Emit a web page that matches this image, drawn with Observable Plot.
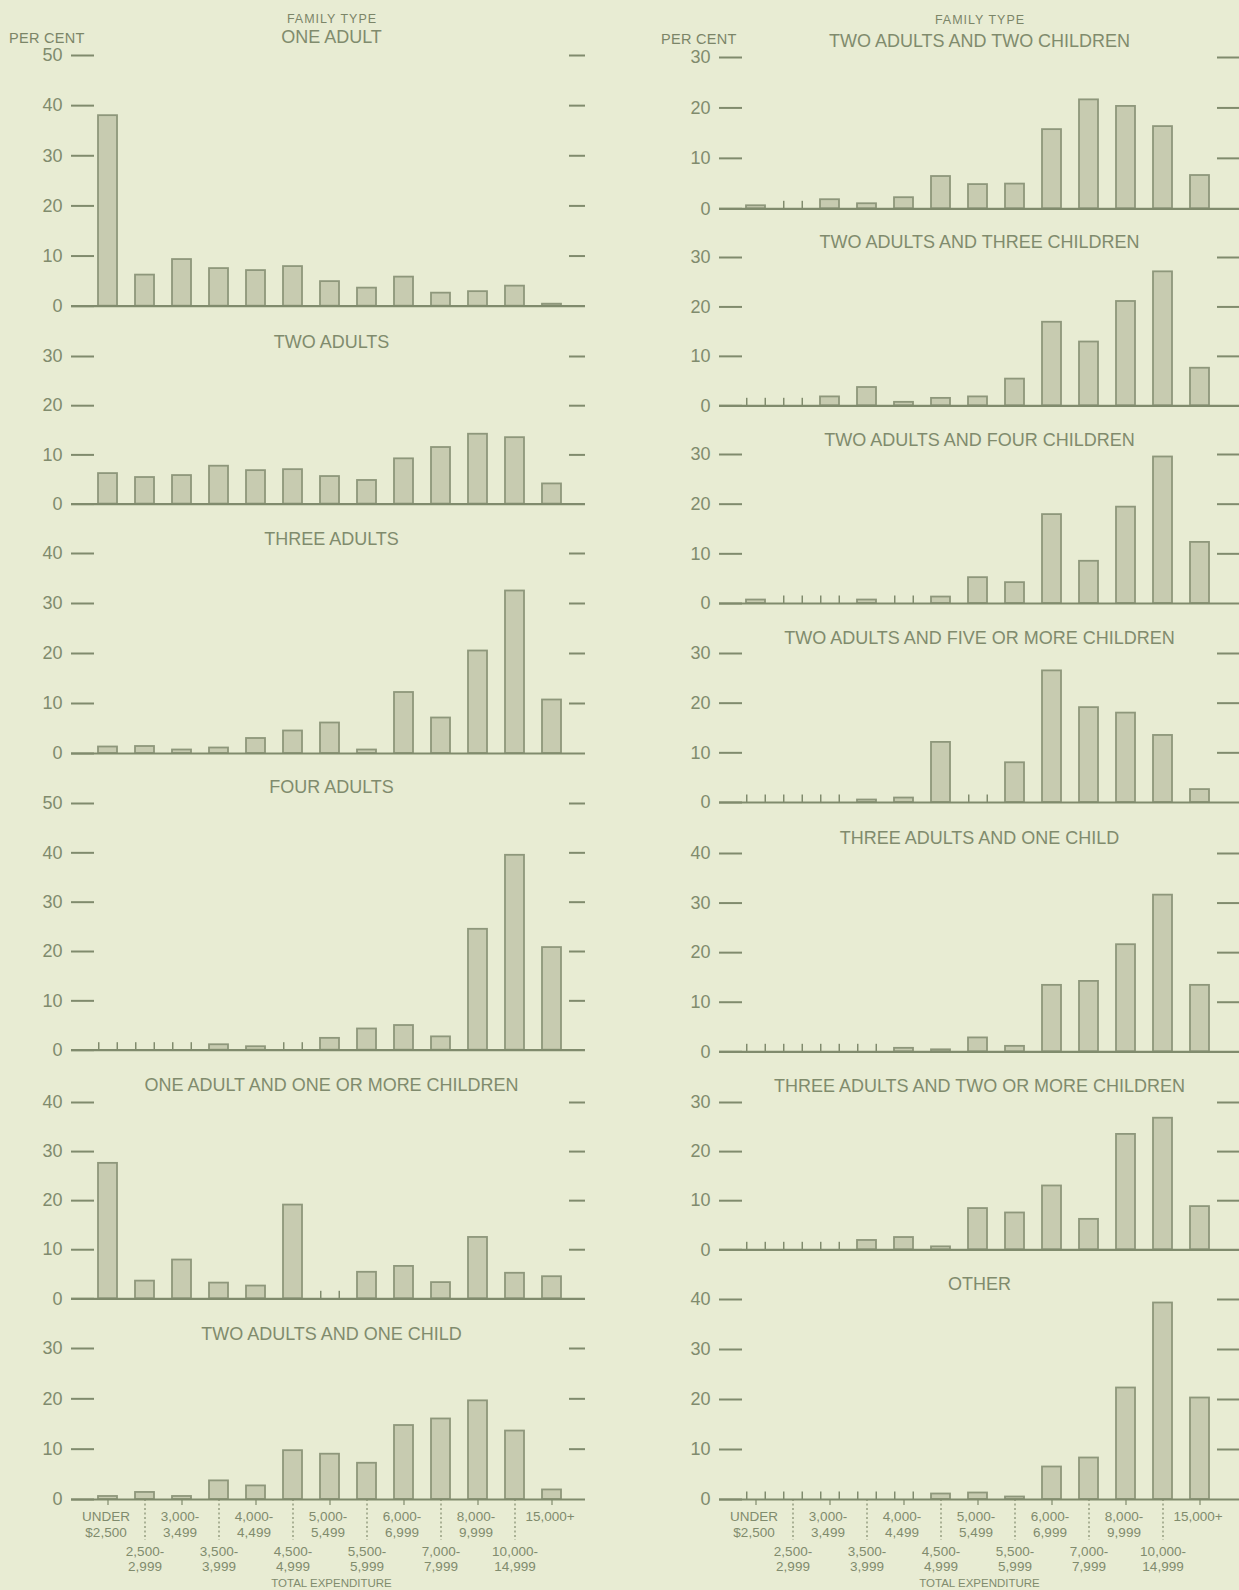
<!DOCTYPE html>
<html>
<head>
<meta charset="utf-8">
<script src="https://cdn.jsdelivr.net/npm/d3@7"></script>
<script src="https://cdn.jsdelivr.net/npm/@observablehq/plot@0.6"></script>
<style>
  html, body { margin: 0; padding: 0; background: #e8ecd3; }
  #chart { position: relative; width: 1239px; height: 1590px; overflow: hidden;
           font-family: "Liberation Sans", "DejaVu Sans", sans-serif; color: #7b8568; }
  .lbl { position: absolute; white-space: nowrap; transform: translate(0, -50%); }
  .panel { position: absolute; }
</style>
</head>
<body>
<div id="chart"></div>
<script>
// ---------------- DATA ----------------
const categories = ["Under $2,500", "$2,500-2,999", "$3,000-3,499", "$3,500-3,999", "$4,000-4,499",
  "$4,500-4,999", "$5,000-5,499", "$5,500-5,999", "$6,000-6,999", "$7,000-7,999",
  "$8,000-9,999", "$10,000-14,999", "$15,000+"];
const tickLabels = ["UNDER\n$2,500", "2,500-\n2,999", "3,000-\n3,499", "3,500-\n3,999", "4,000-\n4,499",
  "4,500-\n4,999", "5,000-\n5,499", "5,500-\n5,999", "6,000-\n6,999", "7,000-\n7,999",
  "8,000-\n9,999", "10,000-\n14,999", "15,000+"];
const familyTypes = ["ONE ADULT", "TWO ADULTS", "THREE ADULTS", "FOUR ADULTS",
  "ONE ADULT AND ONE OR MORE CHILDREN", "TWO ADULTS AND ONE CHILD",
  "TWO ADULTS AND TWO CHILDREN", "TWO ADULTS AND THREE CHILDREN", "TWO ADULTS AND FOUR CHILDREN",
  "TWO ADULTS AND FIVE OR MORE CHILDREN", "THREE ADULTS AND ONE CHILD",
  "THREE ADULTS AND TWO OR MORE CHILDREN", "OTHER"];
const yMax = [50, 30, 40, 50, 40, 30, 30, 30, 30, 30, 40, 30, 40];

const oneAdult               = [38.0, 6.2, 9.3, 7.5, 7.1, 7.9, 4.9, 3.6, 5.8, 2.6, 2.9, 4.0, 0.4];
const twoAdults              = [6.2, 5.4, 5.8, 7.7, 6.8, 7.0, 5.6, 4.8, 9.2, 11.5, 14.2, 13.5, 4.1];
const threeAdults            = [1.3, 1.4, 0.7, 1.1, 3.0, 4.5, 6.1, 0.7, 12.2, 7.1, 20.5, 32.5, 10.7];
const fourAdults             = [0, 0, 0, 1.1, 0.7, 0, 2.4, 4.3, 5.0, 2.7, 24.5, 39.5, 20.8];
const oneAdultChildren       = [27.6, 3.6, 7.9, 3.2, 2.6, 19.1, 0, 5.4, 6.6, 3.3, 12.5, 5.2, 4.5];
const twoAdultsOneChild      = [0.6, 1.4, 0.6, 3.7, 2.7, 9.7, 9.0, 7.2, 14.7, 16.0, 19.6, 13.6, 1.9];
const twoAdultsTwoChildren   = [0.6, 0, 1.8, 1.0, 2.2, 6.4, 4.8, 4.9, 15.7, 21.6, 20.3, 16.3, 6.6];
const twoAdultsThreeChildren = [0, 0, 1.8, 3.7, 0.7, 1.5, 1.8, 5.4, 16.9, 12.9, 21.1, 27.1, 7.6];
const twoAdultsFourChildren  = [0.7, 0, 0, 0.7, 0, 1.3, 5.2, 4.2, 17.9, 8.5, 19.4, 29.5, 12.3];
const twoAdultsFivePlus      = [0, 0, 0, 0.5, 0.9, 12.1, 0, 8.0, 26.5, 19.1, 18.0, 13.5, 2.6];
const threeAdultsOneChild    = [0, 0, 0, 0, 0.7, 0.4, 2.8, 1.1, 13.4, 14.2, 21.6, 31.6, 13.4];
const threeAdultsTwoPlus     = [0, 0, 0, 1.9, 2.5, 0.6, 8.4, 7.5, 13.0, 6.2, 23.5, 26.8, 8.8];
const other                  = [0, 0, 0, 0, 0, 1.1, 1.3, 0.5, 6.5, 8.3, 22.3, 39.3, 20.3];

const series = [oneAdult, twoAdults, threeAdults, fourAdults, oneAdultChildren, twoAdultsOneChild,
  twoAdultsTwoChildren, twoAdultsThreeChildren, twoAdultsFourChildren, twoAdultsFivePlus,
  threeAdultsOneChild, threeAdultsTwoPlus, other];

// ---------------- LAYOUT (page pixels) ----------------
const panelCol   = [0, 0, 0, 0, 0, 0, 1, 1, 1, 1, 1, 1, 1];
const panelTop   = [55.3, 355.7, 552.7, 803.3, 1101.7, 1348, 56.7, 256.7, 454.3, 653.3, 852.7, 1101.7, 1299];
const panelZero  = [306, 503.3, 752.7, 1050, 1298, 1499, 208, 405, 603.3, 802.3, 1051, 1249, 1499];
const panelTitle = [37, 341.7, 538.3, 786.7, 1084, 1334, 40.7, 241.7, 440, 638.3, 837.3, 1085, 1284];
const bottomPanels = [5, 12];
const colX = [0, 648];
const colEnd = [585, 591];

const W = 600, ML = 94, FR = 568, DASH_L = 71, LABEL_R = 62, MT = 45;
const C0 = 107, STEP = 37.08;           // first bar centre, bar step
const R0 = C0 - STEP / 2, R1 = R0 + 13 * STEP;
const BW = STEP * 0.5;

const INK = "#808b6d", BAR_FILL = "#c7cbb0", BAR_STROKE = "#8e977b";

const chart = document.getElementById("chart");

function addLabel(text, x, y, size, spacing, anchor) {
  const d = document.createElement("div");
  d.className = "lbl";
  d.textContent = text;
  d.style.left = x + "px";
  d.style.top = y + "px";
  d.style.fontSize = size + "px";
  d.style.letterSpacing = spacing + "px";
  if (anchor === "middle") d.style.transform = "translate(-50%, -50%)";
  chart.appendChild(d);
}

// header labels
addLabel("FAMILY TYPE", 332, 19, 12.5, 1, "middle");
addLabel("FAMILY TYPE", 648 + 332, 20, 12.5, 1, "middle");
addLabel("PER CENT", 9, 38, 14.5, 0.3, "start");
addLabel("PER CENT", 661, 39, 14.5, 0.3, "start");

function panel(k) {
  const values = series[k];
  const rows = categories.map((c, i) => ({cat: c, label: tickLabels[i], v: values[i], i}));
  const zeros = rows.filter(d => d.v === 0);
  const col = panelCol[k];
  const top = panelTop[k], zero = panelZero[k];
  const isBottom = bottomPanels.includes(k);
  const mb = isBottom ? 1590 - zero : 12;
  const height = MT + (zero - top) + mb;
  const end = colEnd[col];
  const ticks = d3.range(0, yMax[k] + 1, 10);

  const marks = [
    Plot.ruleY(ticks, {y: d => d, insetLeft: -(ML - DASH_L), insetRight: FR - ML, stroke: INK, strokeWidth: 2}),
    Plot.ruleY(ticks.filter(t => t > 0), {y: d => d, insetLeft: FR - ML + 1, insetRight: -(end - FR), stroke: INK, strokeWidth: 2}),
    Plot.text(ticks, {y: d => d, text: d => String(d), frameAnchor: "left", textAnchor: "end",
      dx: -(ML - LABEL_R), fontSize: 18, fill: INK, ariaLabel: "tick-label"}),
    Plot.barY(rows.filter(d => d.v > 0), {x: "cat", y: "v", fill: BAR_FILL, stroke: BAR_STROKE, strokeWidth: 1.8}),
    Plot.ruleX(zeros, {x: "cat", y1: 0, y2: 0, insetTop: -7.5, dx: -BW / 2, stroke: INK, strokeWidth: 1.5}),
    Plot.ruleX(zeros, {x: "cat", y1: 0, y2: 0, insetTop: -7.5, dx: BW / 2, stroke: INK, strokeWidth: 1.5}),
    Plot.ruleY([0], {y: d => d, insetLeft: -(ML - DASH_L), insetRight: -(end - FR), stroke: INK, strokeWidth: 2.2}),
    Plot.text([familyTypes[k]], {frameAnchor: "top", lineAnchor: "middle", dy: panelTitle[k] - top,
      fontSize: 18, fill: INK, ariaLabel: "title"})
  ];

  if (isBottom) {
    const odd = rows.filter(d => d.i % 2 === 0);
    const even = rows.filter(d => d.i % 2 === 1);
    marks.push(
      Plot.ruleX(odd, {x: "cat", y1: 0, y2: 0, insetBottom: -6, stroke: INK, strokeWidth: 1.2}),
      Plot.ruleX(even, {x: "cat", y1: 0, y2: 0, insetBottom: -41, stroke: INK, strokeWidth: 1.2, strokeDasharray: "2,2.5"}),
      Plot.text(odd, {x: "cat", y: () => 0, text: "label", lineAnchor: "top", dy: 10.5, dx: -2, lineHeight: 1.15,
        fontSize: 13.5, fill: INK, ariaLabel: "x-label"}),
      Plot.text(even, {x: "cat", y: () => 0, text: "label", lineAnchor: "top", dy: 45, dx: 0, lineHeight: 1.15,
        fontSize: 13.5, fill: INK, ariaLabel: "x-label"}),
      Plot.text(["TOTAL EXPENDITURE"], {frameAnchor: "bottom", lineAnchor: "middle", dy: 83.5,
        fontSize: 11.5, fill: INK, ariaLabel: "x-title"})
    );
  }

  const svg = Plot.plot({
    width: W,
    height,
    marginTop: MT,
    marginBottom: mb,
    marginLeft: ML,
    marginRight: W - FR,
    x: {type: "band", domain: categories, range: [R0, R1], paddingInner: 0.5, paddingOuter: 0.25, align: 0.5, axis: null},
    y: {domain: [0, yMax[k]], axis: null},
    style: {background: "transparent", overflow: "visible", color: INK,
      fontFamily: '"Liberation Sans", "DejaVu Sans", sans-serif'},
    marks
  });

  d3.select(svg).selectAll('g[aria-label="title"] text').style("letter-spacing", "0.9px");
  d3.select(svg).selectAll('g[aria-label="tick-label"] text').style("letter-spacing", "2px");
  d3.select(svg).selectAll('g[aria-label="x-label"] text').style("letter-spacing", "0.2px");
  d3.select(svg).selectAll('g[aria-label="x-title"] text').style("letter-spacing", "1px");

  const wrap = document.createElement("div");
  wrap.className = "panel";
  wrap.style.left = colX[col] + "px";
  wrap.style.top = (top - MT) + "px";
  wrap.style.width = W + "px";
  wrap.appendChild(svg);
  chart.appendChild(wrap);
}

for (let k = 0; k < familyTypes.length; k++) panel(k);
</script>
</body>
</html>
